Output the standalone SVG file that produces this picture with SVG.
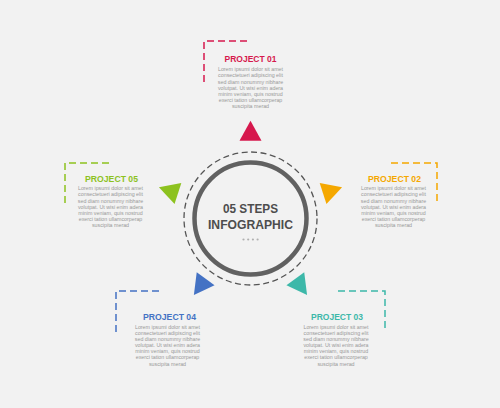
<svg xmlns="http://www.w3.org/2000/svg" width="500" height="408" viewBox="0 0 500 408">
<style>
.title{font-family:"Liberation Sans",Arial,sans-serif;font-weight:bold;font-size:9.5px;text-anchor:middle}
.body{font-family:"Liberation Sans",Arial,sans-serif;font-size:5.3px;fill:#999999;text-anchor:middle}
.br{fill:none;stroke-width:1.5;stroke-dasharray:7 4}
.center{font-family:"Liberation Sans",Arial,sans-serif;font-weight:bold;font-size:13px;fill:#4d4d4d;text-anchor:middle}
</style>
<defs>
<path id="tri" d="M0,-13.3 L11,6.7 L-11,6.7 Z"/>
<g id="lorem">
<text class="body" y="0">Lorem ipsumi dolor sit amet</text>
<text class="body" y="6.15">consectetueri adipiscing elit</text>
<text class="body" y="12.3">sed diam nonummy nibhare</text>
<text class="body" y="18.45">volutpat. Ut wisi enim adera</text>
<text class="body" y="24.6">minim veniam, quis nostrud</text>
<text class="body" y="30.75">exerci tation ullamcorperap</text>
<text class="body" y="36.9">suscipita merad</text>
</g>
</defs>
<rect width="500" height="408" fill="#f2f2f2"/>

<g id="connectors">
<path class="br" stroke="#d6184d" d="M204,82 V41 H250"/>
<path class="br" stroke="#f5a800" d="M391,163 H437 V203"/>
<path class="br" stroke="#3db8a9" d="M338,291 H385 V332"/>
<path class="br" stroke="#4472c4" d="M116,332 V291 H163"/>
<path class="br" stroke="#8dc21f" d="M65,203 V163 H112"/>
</g>

<g id="center">
<circle cx="250.5" cy="218.5" r="66.5" fill="none" stroke="#555" stroke-width="1.3" stroke-dasharray="6 3.5"/>
<circle cx="250.5" cy="218.5" r="56" fill="none" stroke="#616161" stroke-width="4.5"/>
<text class="center" x="250.5" y="213" textLength="55" lengthAdjust="spacingAndGlyphs">05 STEPS</text>
<text class="center" x="250.5" y="228.7" textLength="85" lengthAdjust="spacingAndGlyphs">INFOGRAPHIC</text>
<g fill="#b0b0b0">
<circle cx="243.5" cy="239.5" r="1.1"/>
<circle cx="248.2" cy="239.5" r="1.1"/>
<circle cx="252.9" cy="239.5" r="1.1"/>
<circle cx="257.6" cy="239.5" r="1.1"/>
</g>
</g>

<g id="project01">
<use href="#tri" fill="#d6184d" transform="translate(250.5,217) rotate(0) translate(0,-83)"/>
<text class="title" fill="#d6184d" x="250.5" y="61.8" textLength="52" lengthAdjust="spacingAndGlyphs">PROJECT 01</text>
<use href="#lorem" transform="translate(250.5,71.3)"/>
</g>

<g id="project02">
<use href="#tri" fill="#f5a800" transform="translate(250.5,217) rotate(72) translate(0,-83)"/>
<text class="title" fill="#f5a800" x="394.5" y="181.8" textLength="53" lengthAdjust="spacingAndGlyphs">PROJECT 02</text>
<use href="#lorem" transform="translate(393.5,190.3)"/>
</g>

<g id="project03">
<use href="#tri" fill="#3db8a9" transform="translate(250.5,217) rotate(144) translate(0,-83)"/>
<text class="title" fill="#3db8a9" x="337" y="319.5" textLength="52" lengthAdjust="spacingAndGlyphs">PROJECT 03</text>
<use href="#lorem" transform="translate(336,328.7)"/>
</g>

<g id="project04">
<use href="#tri" fill="#4472c4" transform="translate(250.5,217) rotate(216) translate(0,-83)"/>
<text class="title" fill="#4472c4" x="169.5" y="319.5" textLength="53" lengthAdjust="spacingAndGlyphs">PROJECT 04</text>
<use href="#lorem" transform="translate(167.5,328.7)"/>
</g>

<g id="project05">
<use href="#tri" fill="#8dc21f" transform="translate(250.5,217) rotate(288) translate(0,-83)"/>
<text class="title" fill="#8dc21f" x="111.5" y="181.8" textLength="53" lengthAdjust="spacingAndGlyphs">PROJECT 05</text>
<use href="#lorem" transform="translate(110.5,190.3)"/>
</g>
</svg>
